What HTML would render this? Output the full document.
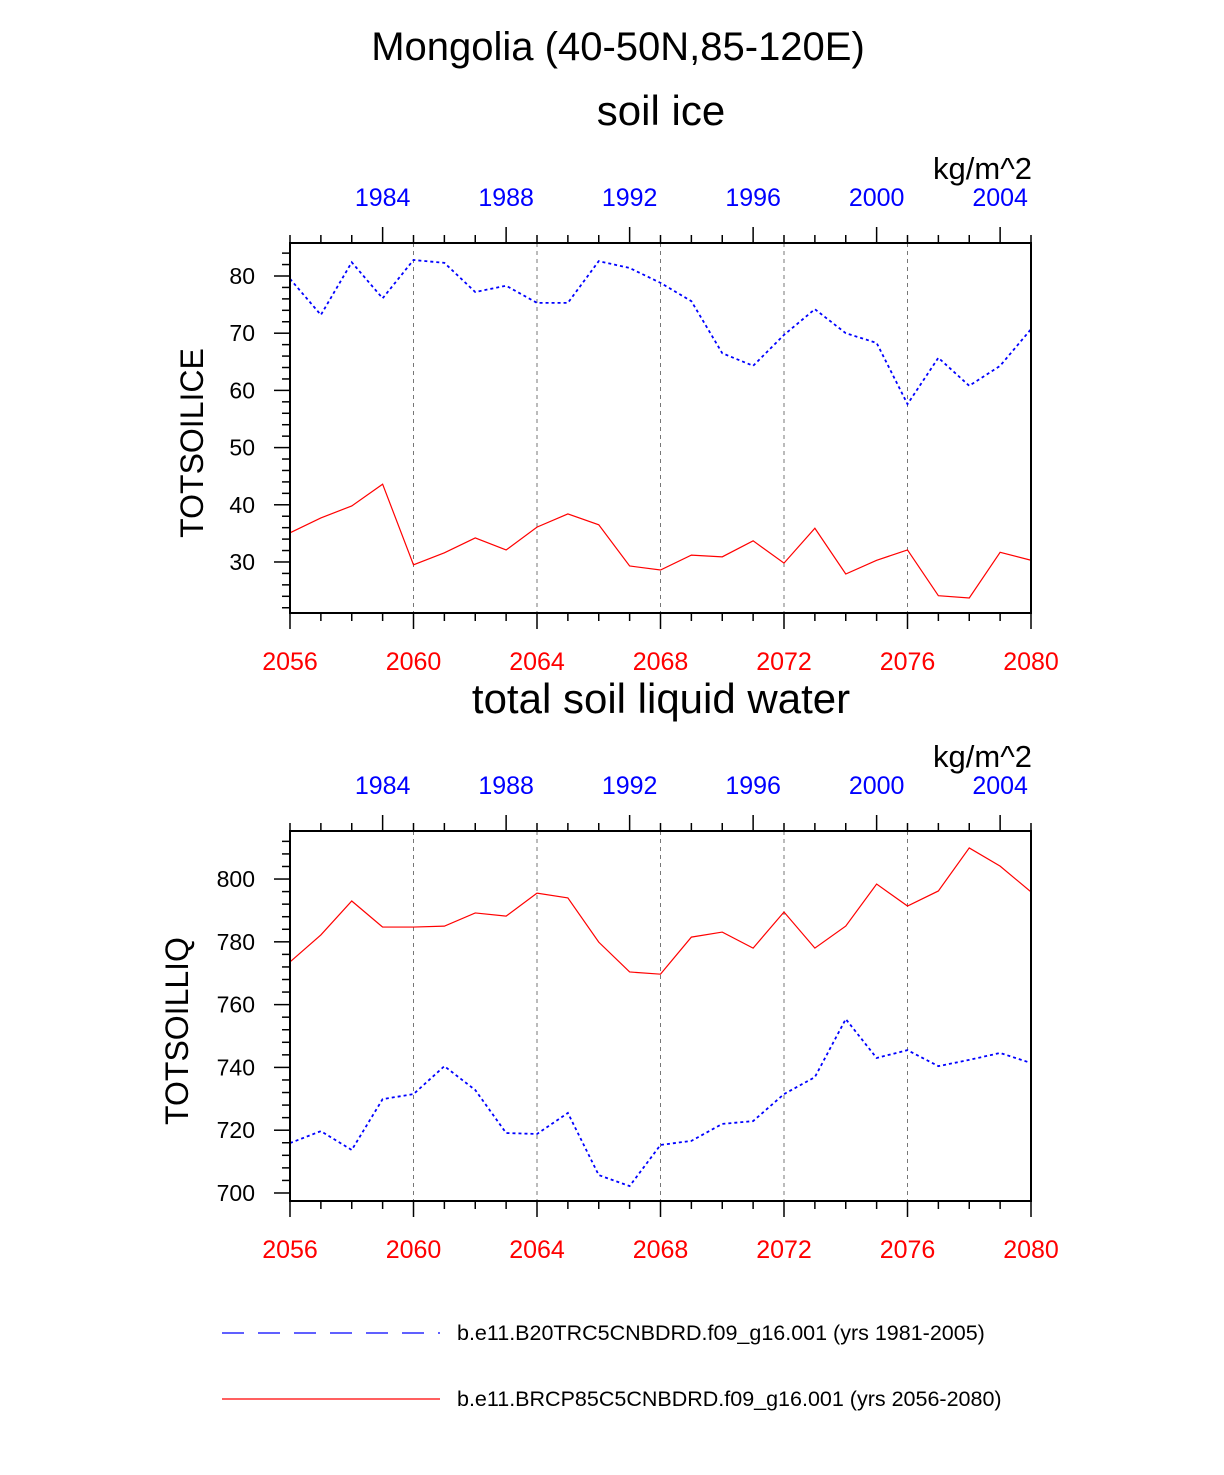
<!DOCTYPE html>
<html><head><meta charset="utf-8"><style>
body{margin:0;background:#fff;}
svg text{font-family:"Liberation Sans",Arial,sans-serif;}
</style></head><body>
<svg id="chart" width="1224" height="1470" xmlns="http://www.w3.org/2000/svg">
<text x="618" y="60" font-size="40" text-anchor="middle">Mongolia (40-50N,85-120E)</text>
<g id="p1"></g>
<g id="p2"></g>
<g>
<line x1="222" y1="1333" x2="440" y2="1333" stroke="#00f" stroke-width="1.2" stroke-dasharray="22,14"/>
<text x="457" y="1340" font-size="21.5">b.e11.B20TRC5CNBDRD.f09_g16.001 (yrs 1981-2005)</text>
<line x1="222" y1="1399" x2="440" y2="1399" stroke="#f00" stroke-width="1.2"/>
<text x="457" y="1406" font-size="21.5">b.e11.BRCP85C5CNBDRD.f09_g16.001 (yrs 2056-2080)</text>
</g>
</svg>
<script>
const years = [2056,2057,2058,2059,2060,2061,2062,2063,2064,2065,2066,2067,2068,2069,2070,2071,2072,2073,2074,2075,2076,2077,2078,2079,2080];
const iceBlue = [79.5,73.2,82.4,76.1,82.8,82.3,77.2,78.3,75.3,75.3,82.6,81.4,78.8,75.6,66.5,64.3,69.7,74.2,70.0,68.3,57.6,65.7,60.8,64.3,70.7];
const iceRed = [35.1,37.7,39.8,43.6,29.5,31.6,34.2,32.1,36.1,38.4,36.5,29.3,28.6,31.2,30.9,33.7,29.8,35.9,27.9,30.3,32.1,24.1,23.7,31.7,30.3];
const liqRed = [773.6,782.2,793.0,784.7,784.7,785.0,789.2,788.2,795.5,794.0,779.9,770.4,769.7,781.5,783.1,778.0,789.5,778.0,785.0,798.4,791.4,796.2,809.9,804.1,795.9];
const liqBlue = [715.9,719.7,713.7,729.9,731.5,740.4,732.8,719.1,718.8,725.5,705.7,702.2,715.3,716.6,722.0,722.9,731.5,736.9,755.4,743.0,745.5,740.4,742.4,744.6,741.4];
const bottomTicks = [2056,2060,2064,2068,2072,2076,2080];
const topTicks = [1984,1988,1992,1996,2000,2004];
const iceTicks = [30,40,50,60,70,80];
const liqTicks = [700,720,740,760,780,800];
const yearOffset = 75;
const NS="http://www.w3.org/2000/svg";
function mk(p,t,a){const e=document.createElementNS(NS,t);for(const k in a)e.setAttribute(k,a[k]);p.appendChild(e);return e;}
function panel(g,top,ymin,ymax,ticks,minorStep,subtitle,ytitle,blue,red,ytitleX){
  const L=290,R=1031,T=top,B=top+370;
  const xs=v=>L+(v-2056)*(R-L)/24;
  const ys=v=>B-(v-ymin)*(B-T)/(ymax-ymin);
  let e=mk(g,'text',{x:661,y:T-118,'font-size':42,'text-anchor':'middle'});e.textContent=subtitle;
  
  
  e=mk(g,'text',{x:1032,y:T-64,'font-size':31,'text-anchor':'end'});e.textContent='kg/m^2';
  
  
  for(const t of [2060,2064,2068,2072,2076]){
    e=mk(g,'line',{x1:xs(t),x2:xs(t),y1:T,y2:B,stroke:'#777','stroke-width':1,'stroke-dasharray':'4,4'});
    
    
  }
  for(let y=2056;y<=2080;y++){
    const maj=(y-2056)%4==0;
    mk(g,'line',{x1:xs(y),x2:xs(y),y1:B,y2:B+(maj?16:8),stroke:'#000','stroke-width':1.5});
    const topMaj=(y-yearOffset)%4==0;
    mk(g,'line',{x1:xs(y),x2:xs(y),y1:T,y2:T-(topMaj?16:8),stroke:'#000','stroke-width':1.5});
  }
  for(const t of bottomTicks){e=mk(g,'text',{x:xs(t),y:B+57,'font-size':25,'text-anchor':'middle',fill:'#f00'});e.textContent=t;
    
    }
  for(const t of topTicks){e=mk(g,'text',{x:xs(t+yearOffset),y:T-37,'font-size':25,'text-anchor':'middle',fill:'#00f'});e.textContent=t;
    
    }
  const m0=Math.ceil(ymin/minorStep)*minorStep;
  for(let v=m0;v<=ymax;v+=minorStep){
    const maj=ticks.includes(Math.round(v));
    mk(g,'line',{x1:L,x2:L-(maj?16:8),y1:ys(v),y2:ys(v),stroke:'#000','stroke-width':1.5});
  }
  for(const t of ticks){e=mk(g,'text',{x:L-35,y:ys(t)+8,'font-size':23,'text-anchor':'end'});e.textContent=t;
    
    }
  e=mk(g,'text',{x:0,y:0,'font-size':32,'text-anchor':'middle',transform:`translate(${ytitleX},${(T+B)/2+15}) rotate(-90)`});e.textContent=ytitle;
  
  
  const pb=blue.map((v,i)=>xs(years[i])+','+ys(v)).join(' ');
  e=mk(g,'polyline',{points:pb,fill:'none',stroke:'#00f','stroke-width':1.8,'stroke-dasharray':'3,3'});
  
  
  const pr=red.map((v,i)=>xs(years[i])+','+ys(v)).join(' ');
  e=mk(g,'polyline',{points:pr,fill:'none',stroke:'#f00','stroke-width':1.2});
  
  
  e=mk(g,'rect',{x:L,y:T,width:R-L,height:B-T,fill:'none',stroke:'#000','stroke-width':2});
  
  
}
panel(document.getElementById('p1'),243,21.08,85.77,iceTicks,2,'soil ice','TOTSOILICE',iceBlue,iceRed,203);
panel(document.getElementById('p2'),831,697.45,815.3,liqTicks,4,'total soil liquid water','TOTSOILLIQ',liqBlue,liqRed,188);
</script>
</body></html>
